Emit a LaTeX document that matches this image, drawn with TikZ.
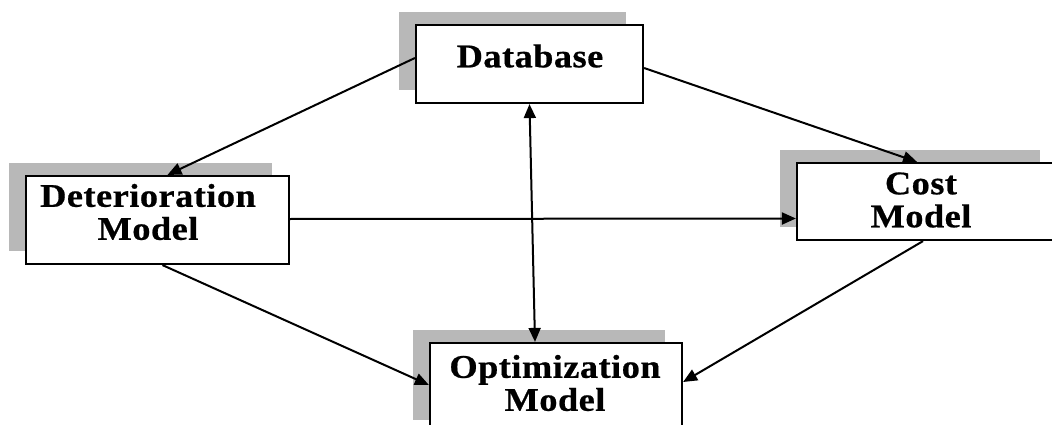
\documentclass[tikz,border=0pt]{standalone}
\usepackage{fontspec}
\setmainfont{Liberation Serif}
\usetikzlibrary{arrows.meta,shadows,calc}

\tikzset{
  modelbox/.style={draw=black, line width=2.2pt, fill=white, rectangle,
    inner sep=0pt,
    general shadow={fill=black!28, shadow xshift=-17pt, shadow yshift=13pt}},
  boxtext/.style={align=center, inner sep=0pt,
    font=\bfseries\fontsize{33}{33}\selectfont\addfontfeature{FakeStretch=1.1,LetterSpace=1.5,FakeBold=0.6}},
  link/.style={line width=2pt, -{Triangle[length=14pt,width=12pt]}},
  twoway/.style={line width=2pt, {Triangle[length=14pt,width=12pt]}-{Triangle[length=14pt,width=12pt]}}
}

\begin{document}
\begin{tikzpicture}[x=1pt,y=-1pt]
  \useasboundingbox (0,0) rectangle (1052,425);
  \clip (0,0) rectangle (1052,425);

  % boxes (with offset drop shadows)
  \node[modelbox, minimum width=227pt, minimum height=78pt] (db)  at (529.5,64)  {};
  \node[modelbox, minimum width=263pt, minimum height=88pt] (det) at (157.5,220) {};
  \node[modelbox, minimum width=260pt, minimum height=77pt] (cost) at (927,201.5) {};
  \node[modelbox, minimum width=252pt, minimum height=90pt] (opt) at (556,388) {};

  % labels
  \node[boxtext] (dbt)   at (530,56)  {Database};
  \node[boxtext] (dett)  at (148,212) {Deterioration\\Model};
  \node[boxtext] (costt) at (921,200) {Cost\\Model};
  \node[boxtext] (optt)  at (555,383) {Optimization\\Model};

  % connectors
  \draw[link]   ($(db.west)+(0,-6)$)   -- ($(det.north)+(10,0)$);
  \draw[link]   ($(db.east)+(0,4)$)    -- ($(cost.north)+(-10,0)$);
  \draw[twoway] (db.south)             -- ($(opt.north)+(-21,0)$);
  \draw[link]   ($(det.east)+(0,-1)$)  -- ($(cost.west)+(0,17)$);
  \draw[link]   ($(det.south)+(5,0)$)  -- ($(opt.west)+(0,-3)$);
  \draw[link]   ($(cost.south)+(-4,0)$) -- ($(opt.east)+(0,-6)$);
\end{tikzpicture}
\end{document}
